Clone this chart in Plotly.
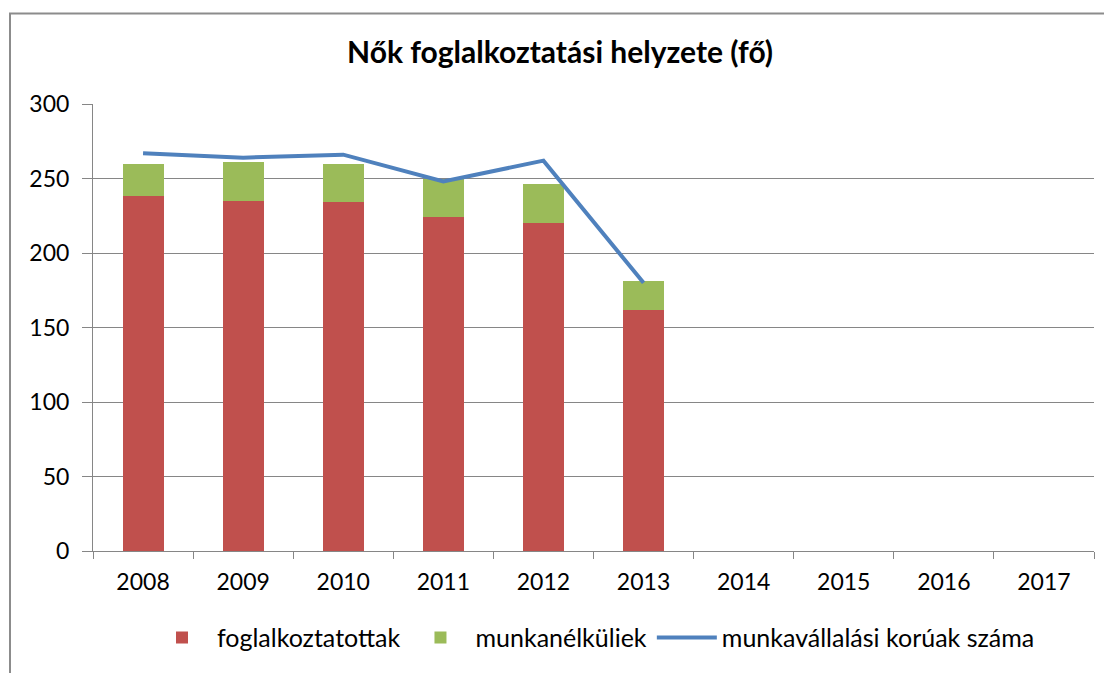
import plotly.graph_objects as go

years = ["2008", "2009", "2010", "2011", "2012", "2013", "2014", "2015", "2016", "2017"]
data_years = ["2008", "2009", "2010", "2011", "2012", "2013"]
foglalkoztatottak = [238, 235, 234, 224, 220, 162]
munkanelkuliek = [22, 26, 26, 26, 26, 19]
munkavallalasi = [267, 264, 266, 248, 262, 180]

FONT = "Lato, Carlito, Calibri, sans-serif"

W, H = 1104, 665

fig = go.Figure()
fig.add_trace(go.Bar(x=data_years, y=foglalkoztatottak, name="foglalkoztatottak",
                     marker=dict(color="#C0504D", line=dict(width=0))))
fig.add_trace(go.Bar(x=data_years, y=munkanelkuliek, name="munkanélküliek",
                     marker=dict(color="#9BBB59", line=dict(width=0))))
fig.add_trace(go.Scatter(x=data_years, y=munkavallalasi, name="munkavállalási korúak száma",
                         mode="lines", line=dict(color="#4F81BD", width=4)))

fig.update_layout(
    width=W, height=H,
    barmode="stack", bargap=0.59,
    paper_bgcolor="white", plot_bgcolor="white",
    margin=dict(l=85, r=18, t=96, b=120),
    font=dict(family=FONT, size=22, color="#000000"),
    title=dict(text="<b>Nők foglalkoztatási helyzete (fő)</b>", x=0.5, xanchor="center",
               y=1 - 44 / H, yanchor="middle", font=dict(size=30, family=FONT)),
    legend=dict(orientation="h", x=0.5, xanchor="center", y=-0.194, yanchor="middle",
                font=dict(size=25), itemwidth=60, traceorder="normal"),
    showlegend=True,
)
fig.update_xaxes(type="category", categoryorder="array", categoryarray=years,
                 range=[-0.5, 9.5], tickvals=years,
                 showline=True, linecolor="#868686", linewidth=1,
                 ticks="outside", tickson="boundaries", ticklen=7, tickcolor="#868686",
                 ticklabelstandoff=10,
                 showgrid=False, tickfont=dict(size=23))
fig.update_yaxes(range=[0, 300], dtick=50, showline=True, linecolor="#868686", linewidth=1,
                 ticks="outside", ticklen=10, tickcolor="#868686",
                 ticklabelstandoff=8,
                 showgrid=True, gridcolor="#868686", gridwidth=1, zeroline=False,
                 tickfont=dict(size=23))
fig.add_shape(type="rect", xref="paper", yref="paper",
              x0=-83 / 1001, x1=1.2, y0=-0.5, y1=1 + 91 / 449,
              line=dict(color="#8C8C8C", width=2), fillcolor="rgba(0,0,0,0)", layer="below")

fig.write_html("out.html")
